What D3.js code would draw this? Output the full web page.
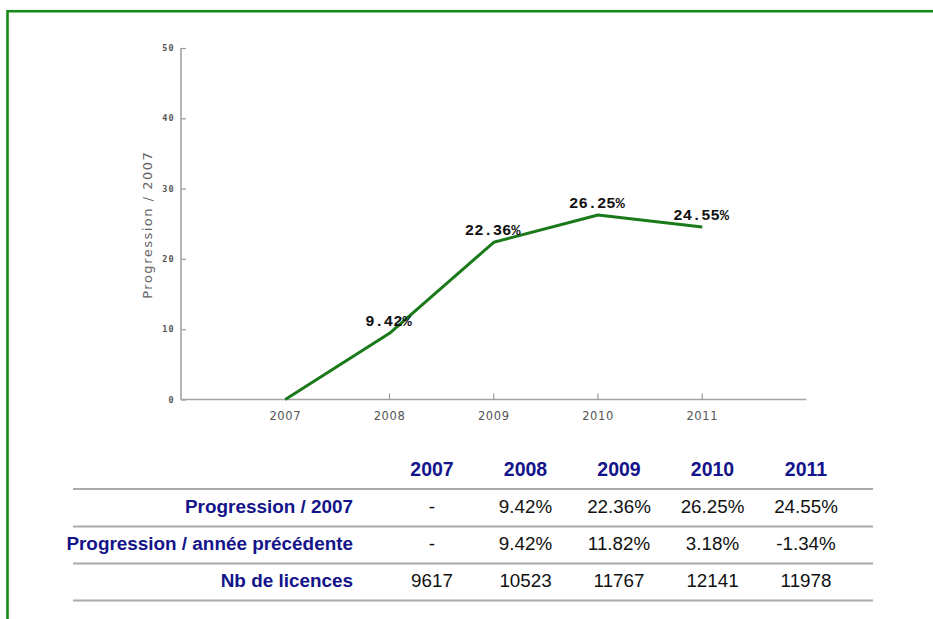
<!DOCTYPE html>
<html>
<head>
<meta charset="utf-8">
<script src="https://cdn.jsdelivr.net/npm/d3@7"></script>
<style>
  body { margin: 0; background: #fff; }
  svg { display: block; }
</style>
</head>
<body>
<svg id="chart" width="933" height="619"></svg>
<script>
// data
const years = ['2007', '2008', '2009', '2010', '2011'];
const progression2007 = [0, 9.42, 22.36, 26.25, 24.55];
const progressionPrev = [null, 9.42, 11.82, 3.18, -1.34];
const licences = [9617, 10523, 11767, 12141, 11978];
const yTicks = [0, 10, 20, 30, 40, 50];
const rowLabels = ['Progression / 2007', 'Progression / année précédente', 'Nb de licences'];

const svg = d3.select('#chart');

// green frame (only top and left edges are visible)
svg.append('path')
  .attr('d', 'M7.5,619 V11.2 H933')
  .attr('fill', 'none')
  .attr('stroke', '#168a16')
  .attr('stroke-width', 2.6);

// chart area
const dim = {left: 181, right: 806.5, top: 48, bottom: 399.5};

const x = d3.scalePoint()
  .domain(['', ...years, ' '])
  .range([dim.left, dim.right]);

const y = d3.scaleLinear()
  .domain([0, 50])
  .range([dim.bottom, dim.top]);

const graph = svg.append('g');

// y axis
const yAxis = graph.append('g')
  .attr('transform', `translate(${dim.left},0)`)
  .call(d3.axisRight(y).tickValues(yTicks).tickSize(5).tickFormat(''));
yAxis.select('.domain').remove();
yAxis.selectAll('line').attr('stroke', '#999').attr('stroke-width', 1.2);

graph.append('line')
  .attr('x1', dim.left).attr('x2', dim.left)
  .attr('y1', dim.top).attr('y2', dim.bottom)
  .attr('stroke', '#a3a3a3')
  .attr('stroke-width', 1.6);

graph.selectAll('.ytick')
  .data(yTicks)
  .enter().append('text')
    .attr('class', 'ytick')
    .attr('x', dim.left - 6)
    .attr('y', d => y(d) + 3)
    .attr('text-anchor', 'end')
    .style('font-family', 'DejaVu Sans Mono, monospace')
    .style('font-weight', 'bold')
    .style('font-size', '8.5px')
    .style('letter-spacing', '1.3px')
    .attr('fill', '#555')
    .text(d => d);

// y axis title
graph.append('text')
  .attr('transform', `translate(152, ${(dim.top + dim.bottom) / 2 + 1}) rotate(-90)`)
  .attr('text-anchor', 'middle')
  .style('font-family', 'DejaVu Sans, sans-serif')
  .style('font-size', '13px')
  .style('letter-spacing', '1.5px')
  .attr('fill', '#666')
  .text('Progression / 2007');

// x axis
graph.append('line')
  .attr('x1', dim.left).attr('x2', dim.right)
  .attr('y1', dim.bottom).attr('y2', dim.bottom)
  .attr('stroke', '#a3a3a3')
  .attr('stroke-width', 1.6);

graph.selectAll('.xtick')
  .data(years.slice(1))
  .enter().append('line')
    .attr('class', 'xtick')
    .attr('x1', d => x(d)).attr('x2', d => x(d))
    .attr('y1', dim.bottom).attr('y2', dim.bottom - 6)
    .attr('stroke', '#999')
    .attr('stroke-width', 1.2);

graph.selectAll('.xlabel')
  .data(years)
  .enter().append('text')
    .attr('class', 'xlabel')
    .attr('x', d => x(d))
    .attr('y', dim.bottom + 20)
    .attr('text-anchor', 'middle')
    .style('font-family', 'DejaVu Sans, sans-serif')
    .style('font-size', '11.5px')
    .style('letter-spacing', '0.6px')
    .attr('fill', '#555')
    .text(d => d);

// line
const points = years.map((yr, i) => ({year: yr, value: progression2007[i]}));

const line = d3.line()
  .x(d => x(d.year))
  .y(d => y(d.value));

graph.append('path')
  .datum(points)
  .attr('d', line)
  .attr('fill', 'none')
  .attr('stroke', '#1a7a1a')
  .attr('stroke-width', 3)
  .attr('stroke-linejoin', 'round');

// value labels
graph.selectAll('.vlabel')
  .data(points.slice(1))
  .enter().append('text')
    .attr('class', 'vlabel')
    .attr('x', d => x(d.year) - 1)
    .attr('y', d => y(d.value) - 7)
    .attr('text-anchor', 'middle')
    .style('font-family', 'Liberation Mono, Courier New, monospace')
    .style('font-weight', 'bold')
    .style('font-size', '15.5px')
    .attr('fill', '#111')
    .text(d => d.value.toFixed(2) + '%');

// table below the chart
const col = d3.scalePoint()
  .domain(years)
  .range([432, 806]);

const rowY = d3.scalePoint()
  .domain(['head', ...rowLabels])
  .range([476, 587]);

const table = svg.append('g');

const rows = [
  progression2007.map((v, i) => i === 0 ? '-' : v.toFixed(2) + '%'),
  progressionPrev.map(v => v == null ? '-' : v.toFixed(2) + '%'),
  licences.map(v => String(v))
];

table.selectAll('.head')
  .data(years)
  .enter().append('text')
    .attr('class', 'head')
    .attr('x', d => col(d))
    .attr('y', rowY('head'))
    .attr('text-anchor', 'middle')
    .style('font-family', 'Liberation Sans, Arial, sans-serif')
    .style('font-weight', 'bold')
    .style('font-size', '19.5px')
    .attr('fill', '#14148a')
    .text(d => d);

const lineYs = [489, 526.5, 563.5, 600.5];
table.selectAll('.rule')
  .data(lineYs)
  .enter().append('line')
    .attr('class', 'rule')
    .attr('x1', 73).attr('x2', 873)
    .attr('y1', d => d).attr('y2', d => d)
    .attr('stroke', '#aaa')
    .attr('stroke-width', 1.8);

table.selectAll('.rowlabel')
  .data(rowLabels)
  .enter().append('text')
    .attr('class', 'rowlabel')
    .attr('x', 353)
    .attr('y', d => rowY(d))
    .attr('text-anchor', 'end')
    .style('font-family', 'Liberation Sans, Arial, sans-serif')
    .style('font-weight', 'bold')
    .style('font-size', '18.9px')
    .attr('fill', '#14148a')
    .text(d => d);

rows.forEach((vals, r) => {
  table.selectAll('.cell' + r)
    .data(vals)
    .enter().append('text')
      .attr('class', 'cell' + r)
      .attr('x', (d, i) => col(years[i]))
      .attr('y', rowY(rowLabels[r]))
      .attr('text-anchor', 'middle')
      .style('font-family', 'Liberation Sans, Arial, sans-serif')
      .style('font-size', '18.8px')
      .attr('fill', '#111')
      .text(d => d);
});
</script>
</body>
</html>
